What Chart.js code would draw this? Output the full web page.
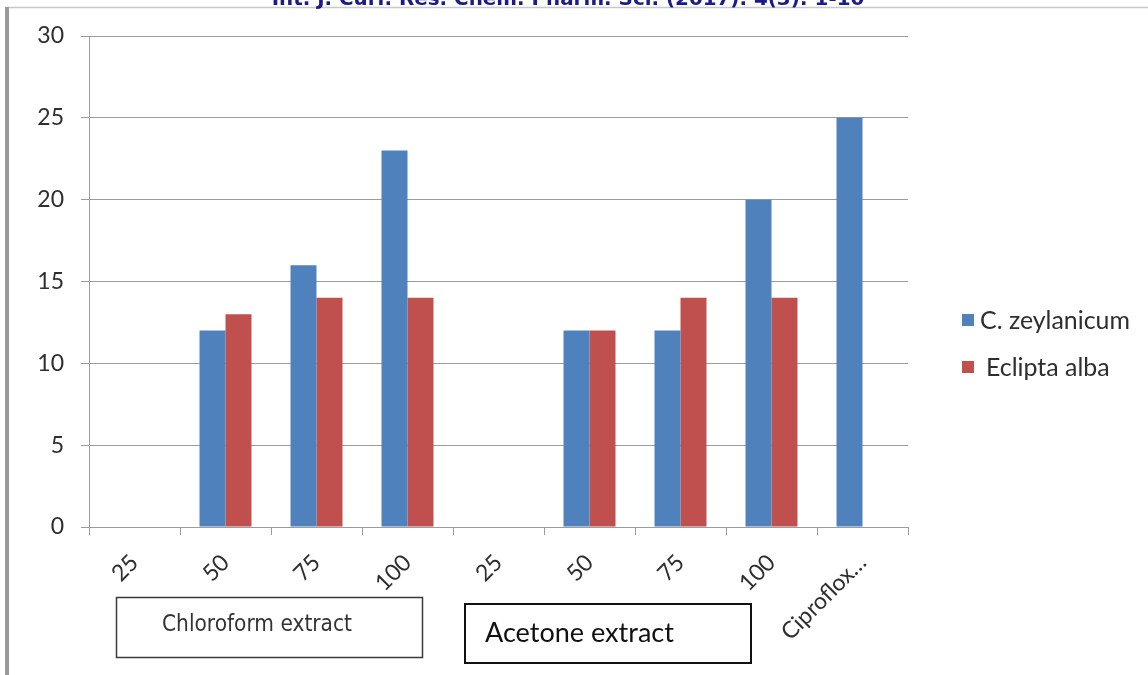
<!DOCTYPE html>
<html>
<head>
<meta charset="utf-8">
<script src="https://cdn.jsdelivr.net/npm/chart.js@4/dist/chart.umd.min.js"></script>
<style>
  html, body { margin: 0; padding: 0; background: #ffffff; }
  #wrap { position: relative; width: 1148px; height: 675px; }
</style>
</head>
<body>
<div id="wrap"><canvas id="c" width="1148" height="675"></canvas></div>
<script>
// Zone of inhibition by extract and concentration
const categories = ['25', '50', '75', '100', '25', '50', '75', '100', 'Ciproflox\u2026'];
const zeylanicum = [0, 12, 16, 23, 0, 12, 12, 20, 25];
const ecliptaAlba = [0, 13, 14, 14, 0, 12, 14, 14, 0];
const seriesNames = ['C. zeylanicum', 'Eclipta alba'];
const seriesColors = ['#4F81BD', '#C0504D'];
const yMin = 0, yMax = 30, yStep = 5;
const groupLabels = ['Chloroform extract', 'Acetone extract'];
const headerText = 'Int. J. Curr. Res. Chem. Pharm. Sci. (2017). 4(3): 1-10';

const LABEL_FONT = 'Lato, "Open Sans", "DejaVu Sans", sans-serif';
const NARROW_FONT = '"DejaVu Sans Condensed", "Liberation Sans Narrow", "DejaVu Sans", sans-serif';

// set a font whose rendered text spans the given width
function fitFont(ctx, text, family, weight, baseSize, width) {
  ctx.font = weight + ' ' + baseSize + 'px ' + family;
  const size = baseSize * width / ctx.measureText(text).width;
  ctx.font = weight + ' ' + size.toFixed(2) + 'px ' + family;
}

// Page frame, running header, legend and extract group boxes
const decor = {
  id: 'decor',
  beforeDraw(chart) {
    const ctx = chart.ctx;
    ctx.save();
    ctx.fillStyle = '#ffffff';
    ctx.fillRect(0, 0, chart.width, chart.height);
    ctx.strokeStyle = '#c8c8c8';
    ctx.lineWidth = 1.5;
    ctx.beginPath();
    ctx.moveTo(8, 7.5);
    ctx.lineTo(chart.width, 7.5);
    ctx.stroke();
    ctx.strokeStyle = '#9a9a9a';
    ctx.lineWidth = 4;
    ctx.beginPath();
    ctx.moveTo(7, 7);
    ctx.lineTo(7, chart.height);
    ctx.stroke();
    ctx.restore();
  },
  afterDraw(chart) {
    const ctx = chart.ctx;
    ctx.save();

    // running header (top clipped by page edge)
    ctx.fillStyle = '#1c1c86';
    ctx.textAlign = 'center';
    ctx.textBaseline = 'alphabetic';
    fitFont(ctx, headerText, '"DejaVu Sans", sans-serif', 'bold', 18, 593);
    ctx.fillText(headerText, 568, 5);

    // legend
    ctx.textAlign = 'left';
    ctx.textBaseline = 'middle';
    fitFont(ctx, seriesNames[0], LABEL_FONT, 'normal', 20, 150);
    chart.data.datasets.forEach((ds, i) => {
      const cy = 320 + i * 47;
      ctx.fillStyle = ds.backgroundColor;
      ctx.fillRect(962, cy - 6, 12, 12);
      ctx.fillStyle = '#2e2e2e';
      ctx.fillText(ds.label, 980 + i * 6, cy + 1);
    });

    // extract group boxes under the category labels
    ctx.strokeStyle = '#3a3a3a';
    ctx.lineWidth = 1.5;
    ctx.strokeRect(116.5, 597.5, 306, 60);
    fitFont(ctx, groupLabels[0], NARROW_FONT, 'normal', 20, 190);
    ctx.fillStyle = '#333333';
    ctx.fillText(groupLabels[0], 162, 625);

    ctx.strokeStyle = '#111111';
    ctx.lineWidth = 2;
    ctx.strokeRect(465, 604, 286, 59);
    fitFont(ctx, groupLabels[1], LABEL_FONT, 'normal', 24, 189);
    ctx.fillStyle = '#111111';
    ctx.fillText(groupLabels[1], 485, 633);

    ctx.restore();
  }
};

new Chart(document.getElementById('c'), {
  type: 'bar',
  data: {
    labels: categories,
    datasets: [
      { label: seriesNames[0], data: zeylanicum, backgroundColor: seriesColors[0] },
      { label: seriesNames[1], data: ecliptaAlba, backgroundColor: seriesColors[1] }
    ]
  },
  options: {
    responsive: false,
    devicePixelRatio: 1,
    animation: false,
    layout: { padding: { left: 0, right: 240, top: 36, bottom: 0 } },
    datasets: { bar: { categoryPercentage: 0.571, barPercentage: 1.0, borderWidth: 0 } },
    plugins: { legend: { display: false }, tooltip: { enabled: false } },
    scales: {
      x: {
        afterFit(scale) { scale.height = 148; },
        grid: { display: true, drawOnChartArea: false, drawTicks: true, tickLength: 8, color: '#9c9c9c', offset: true },
        border: { display: true, color: '#9c9c9c', width: 1 },
        ticks: {
          autoSkip: false, maxRotation: 45, minRotation: 45, padding: 14,
          color: '#2e2e2e', font: { family: LABEL_FONT, size: 23 }
        }
      },
      y: {
        min: yMin, max: yMax,
        afterFit(scale) { scale.width = 89; },
        grid: { color: '#9c9c9c', lineWidth: 1, tickLength: 8, drawTicks: true },
        border: { display: true, color: '#9c9c9c', width: 1 },
        ticks: {
          stepSize: yStep, padding: 17,
          color: '#2e2e2e', font: { family: LABEL_FONT, size: 23 }
        }
      }
    }
  },
  plugins: [decor]
});
</script>
</body>
</html>
